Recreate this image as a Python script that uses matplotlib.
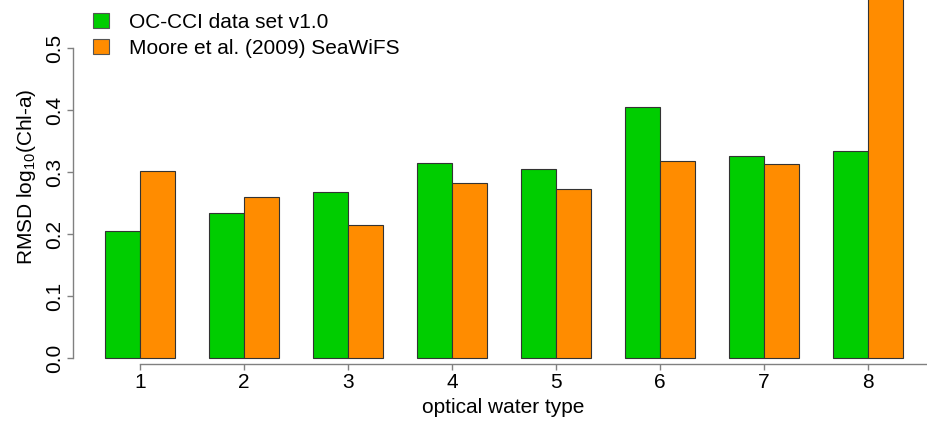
import matplotlib.pyplot as plt
from matplotlib.patches import Patch

plt.rcParams['font.family'] = ['Liberation Sans', 'DejaVu Sans']
plt.rcParams['mathtext.fontset'] = 'custom'
plt.rcParams['mathtext.rm'] = 'Liberation Sans'
plt.rcParams['mathtext.it'] = 'Liberation Sans:italic'

# RMSD of log10(Chl-a) per optical water type
water_types = [1, 2, 3, 4, 5, 6, 7, 8]
occci = [0.205, 0.235, 0.268, 0.315, 0.305, 0.406, 0.326, 0.335]
moore = [0.302, 0.260, 0.215, 0.282, 0.273, 0.319, 0.313, 0.62]
series_names = ['OC-CCI data set v1.0', 'Moore et al. (2009) SeaWiFS']

green = '#00CD00'
orange = '#FF8C00'
axis_grey = '#808080'

W, H = 927, 421
fig = plt.figure(figsize=(W / 100, H / 100), dpi=100)
ax = fig.add_axes([73 / W, 57 / H, (W - 73) / W, 364 / H])

bw = 1 / 3
ax.bar([x - bw / 2 for x in water_types], occci, width=bw, color=green,
       edgecolor='#333333', linewidth=0.8)
ax.bar([x + bw / 2 for x in water_types], moore, width=bw, color=orange,
       edgecolor='#333333', linewidth=0.8)

ax.set_xlim(0.3558, 8.567)
ax.set_ylim(-0.0092, 0.5779)

for s in ['top', 'right']:
    ax.spines[s].set_visible(False)
ax.spines['left'].set_bounds(0, 0.5)
ax.spines['bottom'].set_bounds(1, 8.567)
for s in ['left', 'bottom']:
    ax.spines[s].set_color(axis_grey)
    ax.spines[s].set_linewidth(1.0)

ax.set_xticks(water_types)
ax.set_xticklabels([str(t) for t in water_types])
ax.set_yticks([0.0, 0.1, 0.2, 0.3, 0.4, 0.5])
ax.set_yticklabels(['0.0', '0.1', '0.2', '0.3', '0.4', '0.5'],
                   rotation=90, va='center')
ax.tick_params(axis='both', colors=axis_grey, labelcolor='black',
               length=4.5, width=1.0, labelsize=15)
ax.tick_params(axis='x', pad=2.2)
ax.tick_params(axis='y', pad=2)

# axis titles placed in figure pixels
fig.text(503 / W, 1 - 413 / H, 'optical water type', fontsize=15,
         ha='center', va='baseline')
fig.text(27 / W, 1 - 177 / H, r'RMSD log$_{10}$(Chl-a)', fontsize=15,
         rotation=90, ha='center', va='center')

handles = [Patch(facecolor=green, edgecolor='#555555', linewidth=0.8),
           Patch(facecolor=orange, edgecolor='#555555', linewidth=0.8)]
fig.legend(handles, series_names, loc='upper left',
           bbox_to_anchor=(74 / W, 1 + 6 / H), frameon=False,
           fontsize=15, handlelength=0.78, handleheight=0.7,
           handletextpad=0.95, labelspacing=0.35)

fig.savefig('out.png', dpi=100)
